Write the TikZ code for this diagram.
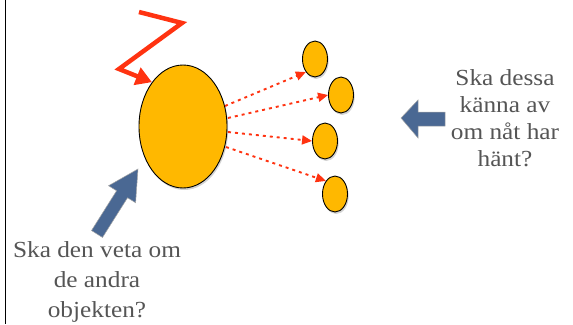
\documentclass[tikz,border=0pt]{standalone}
\usepackage{fontspec}
\setmainfont{Liberation Serif}[FakeStretch=1.1]
\usetikzlibrary{arrows.meta,calc,shadows,shapes.geometric}
\definecolor{ballfill}{RGB}{255,184,0}
\definecolor{redline}{RGB}{255,51,17}
\definecolor{bluearrow}{RGB}{74,104,147}
\definecolor{textgray}{RGB}{85,85,85}
\begin{document}
\begin{tikzpicture}[x=1pt,y=-1pt,
  ball/.style={ellipse,draw=black,line width=0.9pt,fill=ballfill,inner sep=0pt,
    drop shadow={opacity=0.35,shadow xshift=1.2pt,shadow yshift=-2pt}},
  dotarrow/.style={redline,line width=1.9pt,dash pattern=on 3pt off 4pt,
    -{Triangle[length=10pt,width=9pt,sep=0pt]}},
  blockarrow/.style={fill=bluearrow,draw=gray!70,line width=0.5pt},
  label/.style={text=textgray,font=\fontsize{23}{27}\selectfont,align=center,inner sep=0pt}]
\useasboundingbox (0,0) rectangle (573,324);
\draw[line width=1pt] (5.5,0) -- (5.5,324);
% big ellipse
\node[ball,minimum width=88pt,minimum height=123pt] (big) at (183,126.5) {};
% small ellipses
\node[ball,minimum width=25pt,minimum height=36pt] (s1) at (315,59) {};
\node[ball,minimum width=25pt,minimum height=36pt] (s2) at (341,95) {};
\node[ball,minimum width=25pt,minimum height=36pt] (s3) at (325,141) {};
\node[ball,minimum width=25pt,minimum height=36pt] (s4) at (335,194) {};
% dotted arrows
\coordinate (d1) at (225,106);
\coordinate (d2) at (228,118);
\coordinate (d3) at (228,132);
\coordinate (d4) at (226,147);
\draw[dotarrow] (d1) -- (s1.south west);
\draw[dotarrow] (d2) -- (s2.west);
\draw[dotarrow] (d3) -- (s3.west);
\draw[dotarrow] (d4) -- (s4.north west);
% red zigzag
\coordinate (z1) at (139,12);
\coordinate (z2) at (182,23);
\coordinate (z3) at (119,69);
\draw[redline,line width=4.5pt,line join=miter,
  -{Triangle[length=16pt,width=18pt,sep=0pt]}]
  (z1) -- (z2) -- (z3) -- (big.125);
% left-pointing block arrow
\coordinate (lt) at (445,118);
\coordinate (lh) at (401,118);
\filldraw[blockarrow] (445,112) -- (418,112) -- (418,100) -- (lh) -- (418,138) -- (418,126) -- (445,126) -- cycle;
% diagonal block arrow
\coordinate (bt) at (97,234);
\coordinate (bh) at (138,169);
\coordinate (hb) at ($(bt)!47pt!(bh)$);
\filldraw[blockarrow] ($(bt)!6.5pt!90:(bh)$) -- ($(hb)!6.5pt!90:(bh)$) -- ($(hb)!16pt!90:(bh)$)
  -- (bh) -- ($(hb)!16pt!-90:(bh)$) -- ($(hb)!6.5pt!-90:(bh)$) -- ($(bt)!6.5pt!-90:(bh)$) -- cycle;
% texts
\node[label] (tr) at (505,118) {Ska dessa\\känna av\\om nåt har\\hänt?};
\node[label,font=\fontsize{23}{30}\selectfont] (tl) at (97,282) {Ska den veta om\\de andra\\objekten?};
\end{tikzpicture}
\end{document}
